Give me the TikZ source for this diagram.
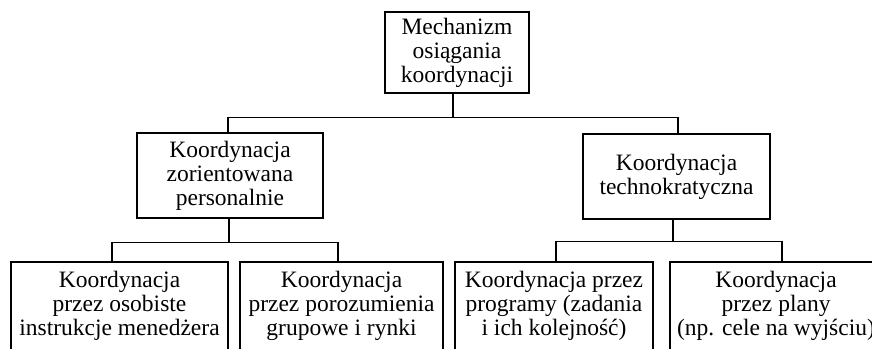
\documentclass[tikz,border=0pt]{standalone}
\usepackage{fontspec}
\setmainfont{Liberation Serif}
\begin{document}
\begin{tikzpicture}[x=1pt,y=-1pt,
  box/.style={draw, line width=1.2pt, align=center, inner sep=0pt,
    font=\fontsize{23.5}{24}\selectfont},
  conn/.style={line width=1.2pt}]
\useasboundingbox (0,0) rectangle (872,348);
\clip (0,0) rectangle (872,348);
\node[box, minimum width=144pt, minimum height=81pt] (top) at (457,52.5) {Mechanizm\\osiągania\\koordynacji};
\node[box, minimum width=186pt, minimum height=85pt] (L) at (230,175.5) {Koordynacja\\zorientowana\\personalnie};
\node[box, minimum width=187pt, minimum height=85pt] (R) at (676.5,176.5) {Koordynacja\\technokratyczna};
\node[box, minimum width=217pt, minimum height=88pt] (B1) at (119.5,306) {Koordynacja\\przez osobiste\\instrukcje menedżera};
\node[box, minimum width=203pt, minimum height=88pt] (B2) at (341.5,306) {Koordynacja\\przez porozumienia\\grupowe i rynki};
\node[box, minimum width=198pt, minimum height=88pt] (B3) at (554,306) {Koordynacja przez\\programy (zadania\\i ich kolejność)};
\node[box, minimum width=212pt, minimum height=88pt] (B4) at (776,306) {Koordynacja\\przez plany\\(np. cele na wyjściu)};
% top level connectors
\draw[conn] ([xshift=-4pt]top.south) -- ++(0,24) coordinate (b0);
\draw[conn] ([xshift=-2pt]L.north) |- (b0) -| ([xshift=1.5pt]R.north);
% left group
\draw[conn] ([xshift=-1pt]L.south) -- ++(0,24) coordinate (b1);
\draw[conn] ([xshift=-7.5pt]B1.north) |- (b1) -| ([xshift=-3.5pt]B2.north);
% right group
\draw[conn] ([xshift=-3.5pt]R.south) -- ++(0,22) coordinate (b2);
\draw[conn] ([xshift=2pt]B3.north) |- (b2) -| ([xshift=6pt]B4.north);
\end{tikzpicture}
\end{document}
